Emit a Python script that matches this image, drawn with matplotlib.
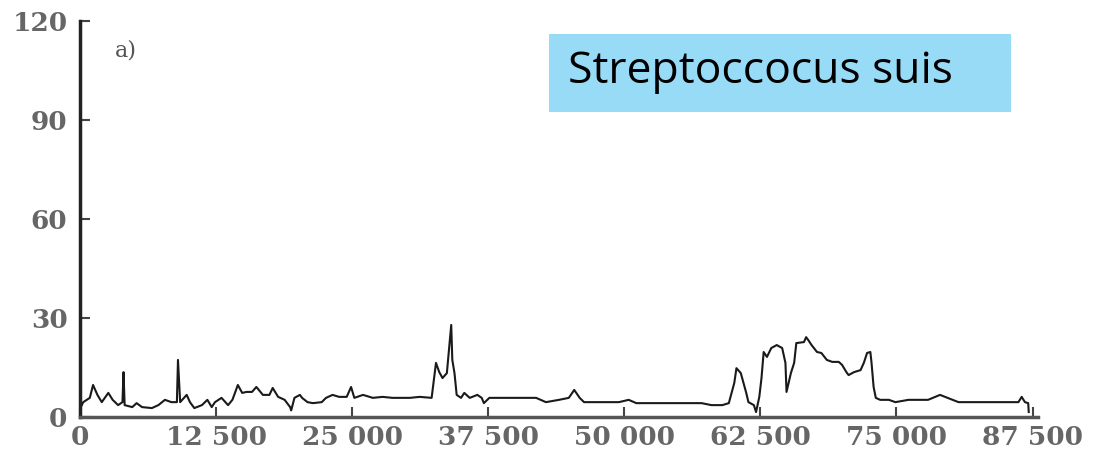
import matplotlib.pyplot as plt
from matplotlib.patches import Rectangle

# trace (position in bp, signal)
pos = [0, 300, 900, 1200, 1600, 2000, 2600, 3000, 3500, 3900, 4000, 4100,
       4800, 5200, 5700, 6600, 7200, 7800, 8400, 8900, 9000, 9200, 9800,
       10100, 10500, 11200, 11700, 12100, 12400, 13000, 13600, 14000, 14500,
       14900, 15300, 15800, 16200, 16800, 17400, 17700, 18200, 18800, 19300,
       19400, 19700, 20200, 20400, 20900, 21400, 22200, 22600, 23200, 23800,
       24500, 24900, 25200, 26000, 26900, 27800, 28700, 29300, 30300, 31200,
       32300, 32700, 33000, 33300, 33700, 34100, 34200, 34400, 34600, 35000,
       35300, 35800, 36500, 36900, 37100, 37600, 38500, 40100, 41900, 42800,
       44000, 44900, 45400, 45900, 46300, 47700, 49500, 50400, 51100, 53200,
       55700, 57100, 58000, 59000, 59600, 60100, 60300, 60700, 61200, 61400,
       61900, 62100, 62400, 62600, 62800, 63100, 63500, 64000, 64500, 64800,
       64900, 65300, 65600, 65800, 66500, 66700, 66900, 67200, 67700, 68100,
       68600, 69100, 69700, 70000, 70400, 70600, 71100, 71700, 72000, 72300,
       72600, 72700, 72900, 73100, 73500, 74300, 74900, 76100, 77900, 79000,
       80700, 83200, 86200, 86500, 86800, 87100, 87150]
signal = [2.5, 4.5, 5.8, 9.7, 6.7, 4.5, 7.3, 5.2, 3.6, 4.5, 13.6, 3.6,
          3.0, 4.2, 3.0, 2.7, 3.6, 5.2, 4.5, 4.5, 17.3, 4.5, 6.7,
          4.5, 2.7, 3.6, 5.2, 3.0, 4.5, 5.8, 3.6, 5.2, 9.7,
          7.3, 7.6, 7.6, 9.1, 6.7, 6.7, 8.8, 6.1, 5.2, 3.0,
          2.0, 5.8, 6.7, 5.8, 4.5, 4.2, 4.5, 5.8, 6.7, 6.1,
          6.1, 9.1, 5.8, 6.7, 5.8, 6.1, 5.8, 5.8, 5.8, 6.1,
          5.8, 16.4, 13.6, 11.8, 13.3, 27.9, 17.3, 13.3, 6.7, 5.8,
          7.3, 5.8, 6.7, 5.8, 4.2, 5.8, 5.8, 5.8, 5.8, 4.5,
          5.2, 5.8, 8.2, 5.8, 4.5, 4.5, 4.5, 5.2, 4.2, 4.2,
          4.2, 4.2, 3.6, 3.6, 4.2, 10.3, 14.8, 13.3, 7.3, 4.5,
          3.6, 1.5, 6.1, 11.8, 19.7, 18.2, 20.9, 21.8, 20.9, 16.4,
          7.6, 13.3, 16.4, 22.4, 22.7, 24.2, 23.3, 21.8, 19.7, 19.4,
          17.3, 16.7, 16.7, 15.8, 13.6, 12.7, 13.6, 14.2, 16.4, 19.4,
          19.7, 16.7, 9.1, 5.8, 5.2, 5.2, 4.5, 5.2, 5.2, 6.7,
          4.5, 4.5, 4.5, 6.1, 4.5, 4.2, 1.5]

x_ticks = [0, 12500, 25000, 37500, 50000, 62500, 75000, 87500]
x_labels = ["0", "12 500", "25 000", "37 500", "50 000", "62 500", "75 000", "87 500"]
y_ticks = [0, 30, 60, 90, 120]

W, H = 1099, 451
fig = plt.figure(figsize=(W / 100, H / 100), dpi=100)
ax = fig.add_axes([80 / W, 34 / H, 958 / W, 396 / H])

ax.plot(pos, signal, color="#1a1a1a", lw=1.5)
ax.set_xlim(0, 88000)
ax.set_ylim(0, 120)

ax.set_xticks(x_ticks)
ax.set_xticklabels(x_labels)
ax.set_yticks(y_ticks)
for sp in ["top", "right"]:
    ax.spines[sp].set_visible(False)
ax.spines["left"].set_color("#222222")
ax.spines["left"].set_linewidth(2.5)
ax.spines["bottom"].set_color("#555555")
ax.spines["bottom"].set_linewidth(2.5)
ax.tick_params(direction="in", length=7, width=1.5, colors="#444444",
               labelcolor="#666666")
ax.tick_params(axis="x", pad=6)
ax.tick_params(axis="y", pad=9)
for lab in ax.get_xticklabels() + ax.get_yticklabels():
    lab.set_family("DejaVu Serif")
    lab.set_fontweight("bold")
    lab.set_fontsize(19)

ax.text(0.036, 0.925, "a)", transform=ax.transAxes, family="DejaVu Serif",
        fontsize=16, color="#555555", ha="left", va="center")

# the species label box pasted on top of the figure
fig.patches.append(Rectangle((549 / W, 1 - 112 / H), 462 / W, 78 / H,
                             transform=fig.transFigure, facecolor="#97dbf7",
                             edgecolor="none"))
fig.text(568 / W, 1 - 72 / H, "Streptoccocus suis", family="Open Sans",
         fontsize=32, color="black", ha="left", va="center")

fig.savefig("out.png", dpi=100)
